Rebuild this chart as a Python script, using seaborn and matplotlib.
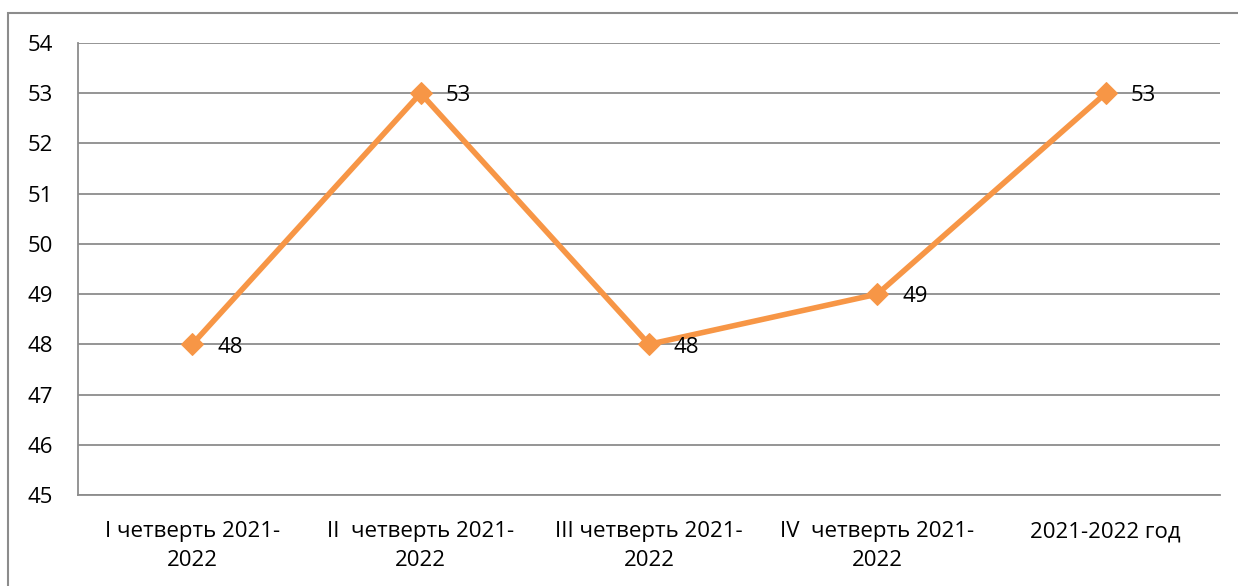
import numpy as np
import pandas as pd
import seaborn as sns
import matplotlib.pyplot as plt
from matplotlib.patches import Rectangle

categories = ["I четверть 2021-\n2022", "II  четверть 2021-\n2022", "III четверть 2021-\n2022",
              "IV  четверть 2021-\n2022", "2021-2022 год"]
values = [48, 53, 48, 49, 53]
y_ticks = list(range(45, 55))

df = pd.DataFrame({"pos": np.arange(len(categories)), "value": values})

sns.set_style("white")
plt.rcParams['font.family'] = ['Open Sans', 'DejaVu Sans']

fig = plt.figure(figsize=(12.38, 5.86), dpi=100)
ax = fig.add_axes([78 / 1238, 1 - 495 / 586, (1220 - 78) / 1238, (495 - 43) / 586])

orange = '#F79646'
sns.lineplot(data=df, x="pos", y="value", ax=ax, color=orange, linewidth=4,
             marker='D', markersize=11, markeredgecolor=orange, zorder=3)

fs = 16
for x, y in zip(df["pos"], df["value"]):
    ax.annotate(str(y), (x, y), xytext=(18, -2), textcoords='offset points',
                va='center', ha='left', fontsize=fs, color='black', zorder=4)

ax.set_xlim(-0.5, len(categories) - 0.5)
ax.set_ylim(45, 54)
ax.set_yticks(y_ticks)
ax.set_xticks(df["pos"])
ax.set_xticklabels(categories, fontsize=fs, linespacing=1.5, color='black')
ax.tick_params(axis='y', labelsize=fs, labelcolor='black', length=0, pad=18)
ax.tick_params(axis='x', length=0, pad=19)
ax.grid(axis='y', color='#8c8c8c', linewidth=1.3)
ax.set_xlabel("")
ax.set_ylabel("")
for s in ['top', 'right']:
    ax.spines[s].set_visible(False)
for s in ['left', 'bottom']:
    ax.spines[s].set_color('#8c8c8c')
    ax.spines[s].set_linewidth(1.3)

fig.patches.append(Rectangle((8 / 1238, -0.05), 1.2, 1 - 13 / 586 + 0.05, transform=fig.transFigure,
                             fill=False, edgecolor='#8c8c8c', linewidth=1.5))

fig.savefig("out.png", dpi=100)
